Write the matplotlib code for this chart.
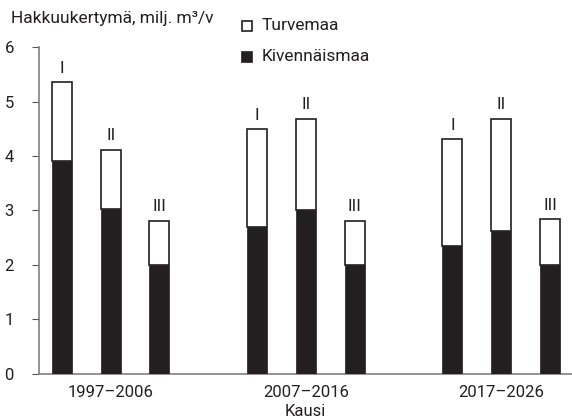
import matplotlib.pyplot as plt
from matplotlib.patches import Rectangle

plt.rcParams["font.family"] = ["Roboto", "DejaVu Sans"]

periods = ["1997–2006", "2007–2016", "2017–2026"]
alternatives = ["I", "II", "III"]
# Kivennäismaa (dark part) per period, per alternative I-III
kivennaismaa = [
    [3.90, 3.03, 2.00],
    [2.69, 3.00, 2.00],
    [2.34, 2.62, 2.00],
]
# total cut (Kivennäismaa + Turvemaa)
total = [
    [5.35, 4.11, 2.81],
    [4.49, 4.68, 2.81],
    [4.31, 4.68, 2.84],
]

DARK = "#231f20"
EDGE = "#231f20"
TXT = "#231f20"

fig = plt.figure(figsize=(5.72, 4.2), dpi=100)
ax = fig.add_axes([0.068, 0.11, 0.932, 0.778])

bar_w = 0.41
group_step = 4
for g, period in enumerate(periods):
    for i, alt in enumerate(alternatives):
        x = g * group_step + i
        dark = kivennaismaa[g][i]
        top = total[g][i]
        ax.bar(x, top - dark, bottom=dark, width=bar_w, color="white",
               edgecolor=EDGE, linewidth=1.2, zorder=2)
        ax.bar(x, dark, width=bar_w, color=DARK, edgecolor=DARK,
               linewidth=0.5, zorder=3)
        ax.text(x, top + 0.12, alt, ha="center", va="bottom", fontsize=12.5,
                color=TXT)

ax.set_xlim(-0.47, 10.45)
ax.set_ylim(0, 6)
ax.set_yticks(range(0, 7))
ax.set_xticks([g * group_step + 1 for g in range(len(periods))])
ax.set_xticklabels(periods, fontsize=12, color=TXT)
ax.tick_params(axis="x", length=0, pad=8)
ax.tick_params(axis="y", length=5, width=0.8, color="#555555", labelsize=12,
               labelcolor=TXT, pad=13)
ax.set_xlabel("Kausi", fontsize=12, labelpad=3, color=TXT)

for side in ["top", "right"]:
    ax.spines[side].set_visible(False)
for side in ["left", "bottom"]:
    ax.spines[side].set_color("#808080")
    ax.spines[side].set_linewidth(1.2)

fig.text(0.02, 0.955, "Hakkuukertymä, milj. m³/v", fontsize=12.5,
         va="center", ha="left", color=TXT)

# legend drawn as squares + labels
fig.patches.append(Rectangle((0.423, 0.926), 0.018, 0.024, transform=fig.transFigure,
                             facecolor="white", edgecolor=EDGE, linewidth=1.2))
fig.patches.append(Rectangle((0.423, 0.852), 0.018, 0.024, transform=fig.transFigure,
                             facecolor=DARK, edgecolor=DARK, linewidth=1.2))
fig.text(0.457, 0.94, "Turvemaa", fontsize=12.5, va="center", ha="left", color=TXT)
fig.text(0.457, 0.865, "Kivennäismaa", fontsize=12.5, va="center", ha="left", color=TXT)

fig.savefig("out.png", dpi=100)
